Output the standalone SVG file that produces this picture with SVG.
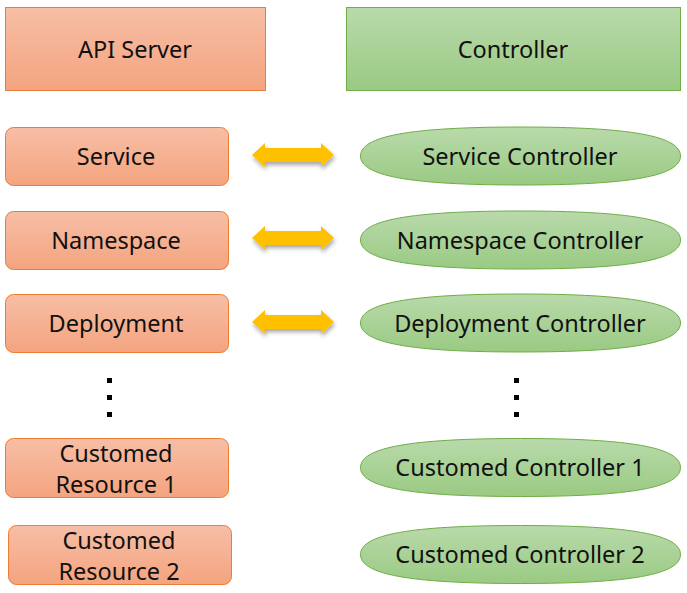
<svg xmlns="http://www.w3.org/2000/svg" width="687" height="593" viewBox="0 0 687 593">
<style>
.o{fill:url(#og);stroke:#ED7D31;stroke-width:1}
.g{fill:url(#gg);stroke:#70AD47;stroke-width:1}
.t{font-family:"Noto Sans","DejaVu Sans",sans-serif;font-size:23.5px;fill:#111;text-anchor:middle;dominant-baseline:central}
.a{fill:#FFC000;filter:url(#sh)}
.d{fill:#000}
</style>
<defs>
<linearGradient id="og" x1="0" y1="0" x2="0" y2="1"><stop offset="0" stop-color="#F7BEA6"/><stop offset="1" stop-color="#F4A47F"/></linearGradient>
<linearGradient id="gg" x1="0" y1="0" x2="0" y2="1"><stop offset="0" stop-color="#B9DAAB"/><stop offset="1" stop-color="#9ACA83"/></linearGradient>
<filter id="sh" x="-20%" y="-50%" width="140%" height="200%"><feDropShadow dx="1" dy="3" stdDeviation="2" flood-color="#000" flood-opacity="0.35"/></filter>
<path id="arr" d="M0,0 L13,-12 L13,-7 L69,-7 L69,-12 L82,0 L69,12 L69,7 L13,7 L13,12 Z"/>
<path id="ell" d="M-160,0 C-160,-20 -110,-29 0,-29 C110,-29 160,-20 160,0 C160,20 110,29 0,29 C-110,29 -160,20 -160,0 Z"/>
</defs>
<g id="api-server"><rect class="o" x="5.5" y="7.5" width="260" height="83"/><text class="t" x="135" y="49">API Server</text></g>
<g id="controller"><rect class="g" x="346.5" y="7.5" width="334" height="83"/><text class="t" x="513" y="49">Controller</text></g>
<g id="service"><rect class="o" x="5.5" y="127.5" width="223" height="58" rx="8"/><text class="t" x="116" y="156">Service</text></g>
<g id="namespace"><rect class="o" x="5.5" y="211.5" width="223" height="58" rx="8"/><text class="t" x="116" y="240">Namespace</text></g>
<g id="deployment"><rect class="o" x="5.5" y="294.5" width="223" height="58" rx="8"/><text class="t" x="116" y="323">Deployment</text></g>
<g id="customed-resource-1"><rect class="o" x="5.5" y="438.5" width="223" height="59" rx="8"/><text class="t" x="116" y="453">Customed</text><text class="t" x="116" y="484">Resource 1</text></g>
<g id="customed-resource-2"><rect class="o" x="8.5" y="525.5" width="223" height="59" rx="8"/><text class="t" x="119" y="540">Customed</text><text class="t" x="119" y="571">Resource 2</text></g>
<g id="service-controller"><use href="#ell" class="g" x="520.5" y="156"/><text class="t" x="520" y="156">Service Controller</text></g>
<g id="namespace-controller"><use href="#ell" class="g" x="520.5" y="240"/><text class="t" x="520" y="240">Namespace Controller</text></g>
<g id="deployment-controller"><use href="#ell" class="g" x="520.5" y="323"/><text class="t" x="520" y="323">Deployment Controller</text></g>
<g id="customed-controller-1"><use href="#ell" class="g" x="520.5" y="467.5"/><text class="t" x="520" y="467">Customed Controller 1</text></g>
<g id="customed-controller-2"><use href="#ell" class="g" x="520.5" y="554.5"/><text class="t" x="520" y="554">Customed Controller 2</text></g>
<g id="connectors">
<use href="#arr" class="a" x="252" y="155"/>
<use href="#arr" class="a" x="252" y="238"/>
<use href="#arr" class="a" x="252" y="322"/>
</g>
<g id="ellipsis-left"><rect class="d" x="107" y="378" width="5" height="5"/><rect class="d" x="107" y="395" width="5" height="5"/><rect class="d" x="107" y="412" width="5" height="5"/></g>
<g id="ellipsis-right"><rect class="d" x="514" y="378" width="5" height="5"/><rect class="d" x="514" y="395" width="5" height="5"/><rect class="d" x="514" y="412" width="5" height="5"/></g>
</svg>
